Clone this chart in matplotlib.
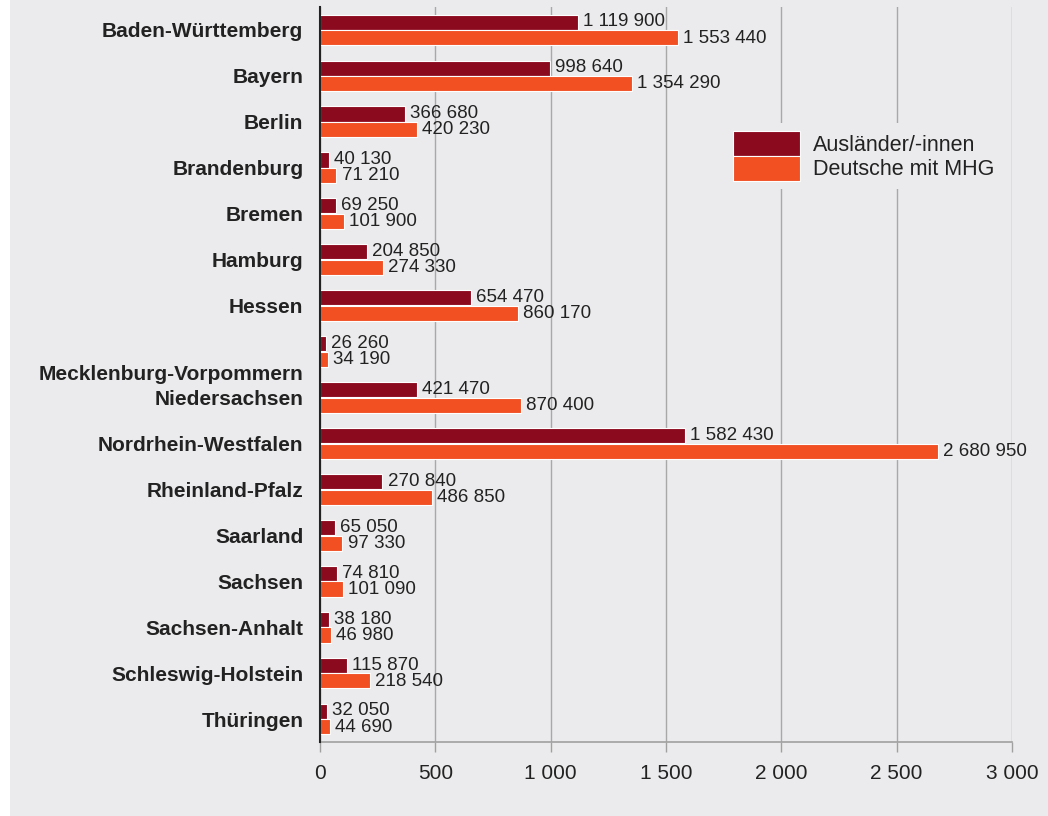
import matplotlib.pyplot as plt
import matplotlib.transforms as mtransforms
from matplotlib.patches import Rectangle
import numpy as np

plt.rcParams['font.family'] = ['Liberation Sans', 'DejaVu Sans']

laender = ['Baden-Württemberg', 'Bayern', 'Berlin', 'Brandenburg', 'Bremen',
           'Hamburg', 'Hessen', 'Mecklenburg-Vorpommern', 'Niedersachsen',
           'Nordrhein-Westfalen', 'Rheinland-Pfalz', 'Saarland', 'Sachsen',
           'Sachsen-Anhalt', 'Schleswig-Holstein', 'Thüringen']
auslaender = [1119900, 998640, 366680, 40130, 69250, 204850, 654470, 26260,
              421470, 1582430, 270840, 65050, 74810, 38180, 115870, 32050]
deutsche_mhg = [1553440, 1354290, 420230, 71210, 101900, 274330, 860170, 34190,
                870400, 2680950, 486850, 97330, 101090, 46980, 218540, 44690]
xticks = [0, 500, 1000, 1500, 2000, 2500, 3000]
xtick_labels = ['0', '500', '1 000', '1 500', '2 000', '2 500', '3 000']

dark = '#8c0a1e'
orange = '#f24f23'
bg = '#ebebed'

fig = plt.figure(figsize=(10.48, 8.16), dpi=100, facecolor='white')
fig.patches.append(Rectangle((10 / 1048, 0), 1, 1, transform=fig.transFigure,
                             facecolor=bg, edgecolor='none', zorder=-10))
ax = fig.add_axes([320 / 1048, 1 - 742 / 816, 692 / 1048, 735 / 816])
ax.set_facecolor(bg)

y = np.arange(len(laender))
h = 0.33
a = np.array(auslaender) / 1000
d = np.array(deutsche_mhg) / 1000
ax.barh(y - h / 2 - 0.005, a, height=h, color=dark, edgecolor='white',
        linewidth=0.8, label='Ausländer/-innen', zorder=3)
ax.barh(y + h / 2 + 0.005, d, height=h, color=orange, edgecolor='white',
        linewidth=0.8, label='Deutsche mit MHG', zorder=3)

def fmt(v):
    return f'{v:,}'.replace(',', ' ')

for i in range(len(laender)):
    ax.text(a[i] + 22, y[i] - h / 2 - 0.01, fmt(auslaender[i]), va='center',
            ha='left', fontsize=13.5, color='#222222', zorder=4)
    ax.text(d[i] + 22, y[i] + h / 2 + 0.01, fmt(deutsche_mhg[i]), va='center',
            ha='left', fontsize=13.5, color='#222222', zorder=4)

ax.set_ylim(len(laender) - 0.5, -0.5)
ax.set_xlim(0, 3000)
ax.set_yticks(y)
ax.set_yticklabels(laender, fontsize=15, fontweight='bold', color='#222222')
ax.tick_params(axis='y', length=0, pad=12)
# the label for Mecklenburg-Vorpommern sits lower in the original
lbl = ax.get_yticklabels()[7]
lbl.set_transform(lbl.get_transform() +
                  mtransforms.ScaledTranslation(0, -21 / 100, fig.dpi_scale_trans))

ax.set_xticks(xticks)
ax.set_xticklabels(xtick_labels, fontsize=15, color='#222222')
ax.tick_params(axis='x', length=7, width=1, color='#a0a0a0', pad=9)
ax.grid(axis='x', color='#a8a8a8', linewidth=1, zorder=0)
ax.set_axisbelow(True)

for s in ['top', 'right']:
    ax.spines[s].set_visible(False)
ax.spines['left'].set_color('#222222')
ax.spines['left'].set_linewidth(1.5)
ax.spines['left'].set_zorder(5)
ax.spines['bottom'].set_color('#a0a0a0')
ax.spines['bottom'].set_linewidth(1.2)

leg = ax.legend(loc='upper left', bbox_to_anchor=(714 / 1048, 1 - 112 / 816),
                bbox_transform=fig.transFigure, frameon=True, fontsize=15.5,
                handlelength=3.1, handleheight=1.38, labelspacing=0,
                handletextpad=0.6, borderpad=0.4)
leg.get_frame().set_facecolor(bg)
leg.get_frame().set_edgecolor('none')
leg.get_frame().set_alpha(1)
for t in leg.get_texts():
    t.set_color('#222222')

fig.savefig('out.png', dpi=100, facecolor=fig.get_facecolor())
